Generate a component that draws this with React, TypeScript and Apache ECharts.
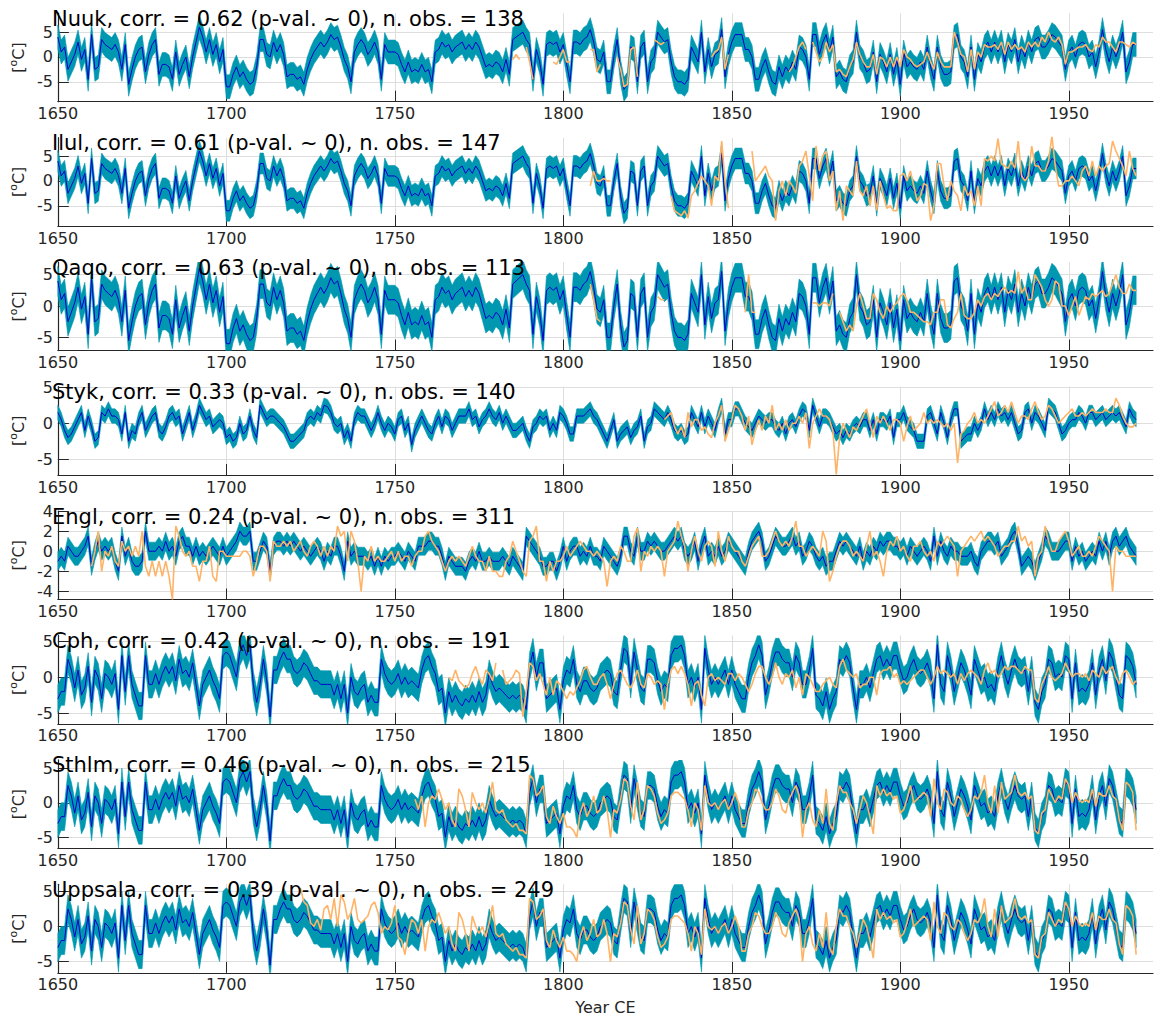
import React, { useEffect, useRef } from "react";
import * as echarts from "echarts";

const _ = null;
const FIRST_YEAR = 1650;
const X_TICKS = [1650, 1700, 1750, 1800, 1850, 1900, 1950];
const Y_TICKS_5 = [-5, 0, 5];
const Y_TICKS_ENGL = [-4, -2, 0, 2, 4];

// Reconstructions, 1650..1970 (one value per year)
const GREENLAND_RECON = [
  4, 1, 2, -2.5, -1, 0.5, 3, -0.5, 1.5, -4.5,
  4.5, -2.5, -2, 3.5, 2.5, 2, 1.5, 2.5, 1, -2.5,
  2.5, -5.5, -2.5, 0, 1.5, 2, -3, 0.5, 2.5, 3.5,
  -3.5, -1.5, -1.5, -2, -4.5, 1, -3.5, -1.5, 0, -4,
  0, 3, 6, 4, 1, 3.5, 0.5, 2.5, -1, 1.5,
  -6, -6, -3.5, -2, -4, -3, -4.5, -5.5, -5, -2,
  3.5, 3.5, 0.5, 0, 3, 1, 2.5, 0.5, -4, -3.5,
  -3.5, -4.5, -4, -5.5, -2.5, -0.5, 1, 2, 3, 2,
  3, 4.5, 3.5, 4, 2, -0.5, -2, -5, 1, 2.5,
  3.5, 2.5, 0.5, 1.5, 3, 1, -4.5, 2.5, 1, 1,
  1, 0.5, -1.5, -3, -1, -3, -2.5, -3, -1.5, -3,
  -2.5, -5, 1, 1.5, 3, 2, 2.5, 1, 2, 2.5,
  3, 1.5, 2.5, 1.5, 3, 2, 0, -2, -1.5, -2,
  -1, -1.5, -3, -0.5, -3.5, 3.5, 4, 4.5, 5, 3.5,
  2.5, -4.5, 1.5, -1, -5.5, 2.5, 3, 2.5, 3, 1,
  2.5, -1.5, -5, 3, 3, 2.5, 3.5, 4, 5.5, 3,
  -0.5, -1, 1, -5, -5, 0, 3.5, -3, -6.5, -5.5,
  2, 1.5, -5, 2, 3, -5, -1, 0, 5, 4,
  3, 3.5, -1, -4, -5, -5, -5.5, -4.5, 2, 0.5,
  -1, 5, -3, 1.5, -2, 0.5, 1, 5.5, -4, 0.5,
  3, 4.5, 4.5, 4.5, 1.5, 1.5, 0, -4.5, -4.5, -2,
  -0.5, -3, -5, -5.5, -2, -4, -2, -3, -1, -2.5,
  2, 1.5, 0, -4.5, 4.5, 4.5, 0.5, 3, 4.5, 1,
  4, -4, -3, -4.5, -5, -2, -1, 5, 0, -1,
  -3, -2.5, 1, -5, 0.5, -1, -3, 0.5, -3.5, -0.5,
  -5.5, 1, -2, -1, -2, -2.5, -1, -2.5, 2, -2,
  -4.5, 2, -2, -3.5, -3.5, -3, 4, 4.5, 0, -1,
  -4, 2, -4.5, 0.5, -1, 2, 3, 1, 3, 1,
  3, -1, 2.5, 1, 3.5, -1, 2, 0, 3, 1,
  3.5, 4, 2, 2, 3, 4.5, 4, 3, 2, -2.5,
  1, 2, 0, 2.5, 3, 2.5, 0, 1, -2, 1,
  5.5, 1.5, -1, 2, 0, 2, 5, -3, -1, 2.5,
  2.5,
];

const STYK_RECON = [
  1.5, 0.5, -1, -2, -1.5, -0.5, 0.5, 1.5, -1, 1,
  -0.5, -2.5, -2, 1.5, 1, 2, 1, 1, 0.5, -1.5,
  1.5, -2.5, -1, -1.5, 0.5, 1.5, -1, 0, 1, 1.5,
  -1, -1.5, -0.5, 1, 1.5, 0.5, 1, -1.5, 0, 1.5,
  -1, 0.5, 2.5, 1.5, 0.5, 1, -0.5, 0, 0.5, 0,
  -2, -1.5, -2.5, -2, 0, -1.5, -1, 1, -1, -2,
  2.5, 1.5, 0.5, 1, 1, 0.5, 0, -0.5, -1.5, -2.5,
  -2.5, -2, -1.5, -1, 0.5, 1, 0.5, 1.5, 1, 2.5,
  2.3, 1.5, 0, -0.5, 0, -2, -1, -2.5, 0.5, 1.5,
  1, 1, 0, -1, 0, 1.5, 0, -1, 0, -0.5,
  -1.5, 0.5, 1, -1, 0, -3, -1, 0, 1, 0,
  -1, -1.5, 0, 1, -0.5, 1, 0.5, -1, 0, 1,
  1, 1, 2, 0.5, 1, -0.5, 0.5, 1, 2, 1,
  0.5, 1.5, 0, 1, 0, -1, -1, -0.5, 0, -1.5,
  -2.5, -0.5, 0, 1, 0.5, 1, -1, 0, -1, 1.5,
  1, 0, -1.5, -1.5, 1, 1, 1, 1.5, 2, 1,
  0.5, -0.5, -1.5, -2.5, -1, 0.5, -2.5, -1.5, -1, -0.5,
  -2, -1, -0.5, 1, -2.5, -0.5, 0, 2, 1.5, 1,
  0.5, 1.5, 0.5, -1, -1.5, -1, -2, -1.5, 1.5, 0.5,
  -0.5, 1.5, -0.5, 1, 0, -1, 1, 2.5, -1.5, 0.5,
  0.5, 2, 2, 1, 0, -0.5, -1, 0, 1, 0.5,
  0, 0.5, 0.5, -0.5, -1, 0, -1.5, 0, 0.5, -0.5,
  1, 2, 1.5, -1, 2.5, 1, -0.5, 1, 1, 0.5,
  -0.5, -1.5, -1, -2, -1, -1.5, -0.5, 0, -0.5, 0.5,
  0.5, -1, 0.5, -1.5, 0.5, 0.5, 0, 1, -2, 0.5,
  0.5, 1.5, 0, -0.5, -1, -2.5, -2.5, -2.5, 1, 1.5,
  0, -1.5, 1.5, 0, -2, 0.5, 2, 2, -2.5, -2,
  -1.5, -1.5, 0, -1, 0, 2, 0.5, 1.5, 0.5, 2,
  1, 1.5, 0.5, 1.5, 0, -1.5, -1, 1.5, 2, 0,
  1.5, 1, 0, -1, 2.5, 2, 1.5, 0, -1.5, -1,
  0, 0.5, 0.5, 1.5, 1, 0, 1.5, 1.5, 0.5, 1,
  1.5, 0.5, 1, 1.5, 1, 1.5, 0.5, -0.5, 2, 1,
  0.5,
];

const ENGL_RECON = [
  -1, -0.5, -1, 0.5, 0, -0.5, -0.5, 0, 0.5, 1.5,
  -1.5, 0, 1, 0, 0.5, 0, 0.5, -1, -2, 1.5,
  -0.5, 0.5, -1, -1.5, -1.5, -1, 2, 0, 0, 0,
  0.5, 0, 1, 0, 0.5, -0.5, 1, 1.5, 0.5, 0.5,
  -0.5, 0.5, -0.5, 0, -0.5, 0, 0.5, 0, -0.5, 0.5,
  -0.5, 0, 0.5, 1, 2, 1.5, 1.5, 2, -1, -1,
  0, 1, 0.5, -2, 0.5, 1, 1, 0.5, 1, 0.5,
  1, 0.5, 0, 0.5, 0, -0.5, 0, 0.5, 0, -1,
  0, -0.5, 0.5, 0.5, -0.5, -2, 1, -0.5, 0, -0.5,
  -0.5, -0.5, -1, -0.5, -1.5, -0.5, -1.5, -0.5, -1, -0.5,
  -0.5, 0, -0.5, -1, 0, -0.5, -1, 0.5, 0.5, 0.5,
  1, 1, 0.5, 0.5, -0.5, -2, -0.5, -1, -1.5, -1.5,
  -1.5, -2, -1, -0.5, -1, 0, -1, -1, -0.5, -1,
  -1, -1, -0.5, -1, -1.5, -0.5, -1, -1.5, -2, 1.5,
  1, 0.5, 0, -0.5, -1.5, -1.5, -1, -1, -2, -1,
  0.5, -1, 0, 0.5, 0.5, -0.5, 0, -0.5, 0.5, -0.5,
  -0.5, -1, 0.5, 0, -0.5, -1, -1.5, -0.5, 1.5, 1.5,
  0, -0.5, 1.5, 0, 0, 1, 0.5, 1, 0.5, 0,
  0, 0.5, 1, 1.5, 1, 1.5, 0, -0.5, 0, 1,
  -1, 0.5, 1.5, -0.5, 0, -0.5, 0.5, -0.5, 0, 1,
  0.5, 0, -0.5, -1, -1.5, 0, 1, 1.5, 2, 1,
  -1, -0.5, 0.5, 1.5, 1, 0.5, 0.5, 1, 1.5, 0.5,
  1, -0.5, 0, 1, 0.5, -0.5, -1, -0.5, -1.5, -1,
  -1, 0, 1, 0.5, 1, 0.5, 0, -0.5, 0.5, -1,
  0, -0.5, 0.5, 0, 1, 0.5, 1, 1, 0.5, 0.5,
  0, 0.5, -0.5, 0.5, 0, -0.5, 0, 0.5, 0, -1,
  1.5, -0.5, 1, 0, -0.5, 0.5, 0, 0, -0.5, -0.5,
  -0.5, 0, -1, -1.5, 0, 0.5, 1, 1, 0.5, 1,
  -0.5, 0, 0.5, 1.5, 2, 0.5, -1.5, -1, -0.5, -1,
  -2, -1, 0, 1.5, 1, 0, 0, 0, 0.5, 1,
  1, -1, 0.5, -0.5, 0, -1, -0.5, 0, -0.5, 1,
  0, 1, -0.5, 1, 1.5, 0.5, 1, 1.5, 0.5, 0,
  -0.5,
];

const SCAN_RECON = [
  -3, -2, -2, 2.5, 1, -1.5, 1, -2.5, -1.5, 1.5,
  -3.5, 1, 0, -3, 0.5, 0, -1, 0.5, -4.5, 3,
  -2, 3, -1, -2.5, -4, -4, 3, -1, -1, 0.5,
  -1, 0.5, 1.5, 0.5, 1.5, -0.5, 2.5, 0.5, 1, 0,
  2, -1, -4, -1, 0, 1, -0.5, -1.5, -3, 3,
  3.5, 3, 1.5, 0, 3.5, 4.5, 3, 4.5, -1, -3.5,
  -1, 2.5, -0.5, -5.5, 1, 1, 2.5, 3.5, 2.5, 2.5,
  1, 0.5, 1, 2, 1.5, 0.5, -0.5, -0.5, -1, -1,
  -1, -1, -2.5, -1, -3, -1, -5, 0, -2, -2.5,
  -1.5, -1, -3.5, -2.5, -3.5, -3.5, 2.5, 0.5, -0.5, -1,
  -0.5, 0.5, -1, 0, -1, -0.5, -1, -1.5, 1, 2.5,
  3, 1.5, 0.5, -2, -1.5, -5, -2, -3.5, -2.5, -3.5,
  -4, -3, -3.5, -2.5, -3.5, -2, -3.5, -2.5, 0.5, -1,
  -2, -1.5, -2, -2.5, -3, -2.5, -3, -2.5, -3, -4.5,
  1.5, 3.5, 0, 2, 2, -3, -2.5, -2, -1.5, -4.5,
  -0.5, 1, 0.5, 2.5, -1, -2, -0.5, -0.5, -1.5, -2,
  -1.5, 0, 0.5, 1, 0.5, -2, -2.5, 1, 4, 3.5,
  -1, 3.5, 1, -1.5, -2, 2.5, 2.5, 2, -0.5, -2,
  -1, -1.5, 3, 4, 4, 4.5, 3, -1, 0, -1.5,
  0, -4.5, 4, 1, -1, 0, -1, 0, 1, -1,
  1, -1, -2, -3, -3, 0, 2, 3, 4.5, 3,
  -2.5, -0.5, 2, 3.5, 3.5, 2.5, 2, 2, 0, 3,
  2, -1, -1, 1, 4, -2.5, -3, -4, -2, -4.5,
  -3, -2, 2.5, 2, 3, 2, -1.5, -4.5, -1, -1,
  0, -1.5, 0.5, 2.5, 3, 1.5, 2.5, 1.5, 3, 3,
  1, -0.5, 0, 1.5, 2.5, 1, 0.5, 1, 2, 0.5,
  -3, 4.5, -1, -2, 3, 1, -2, 0, 2, 1,
  -0.5, -2.5, 2.5, 1, -0.5, 0, -1.5, -1, -2, 1,
  3, 0.5, -1, 1, 2.5, 1, 0.5, 1, -2, 1,
  -3.5, -4.5, -2, -1, 2.5, 2, 0, 0.5, 0, 3,
  2.5, -3, 2, -2, -1.5, -2, -1, 2, -2.5, 1,
  2.5, -0.5, 3.5, 2.5, 0, -2.5, -3, 3, 2.5, 1.5,
  -1,
];

// Station observations (first year given beside each), null = no observation
const NUUK_OBS_START = 1785;
const NUUK_OBS = [
  -0.5, 0.5, -0.5, _, 2,
  -1, -4.5, _, _, _, _, _, -1, -1.5, 0,
  1.5, -1, -1, _, _, _, _, _, 1.5, 1.5,
  -3, -1.5, _, _, _, _, 0, -2.5, -6, -5.5,
  1.5, 2, -4, _, _, _, _, 3.5, 3, 2.5,
  3, _, _, _, _, _, _, _, _, _,
  _, _, _, _, 0, 1, 1.5, 4, -2.5, 0.5,
  _, _, _, _, _, _, _, _, _, _,
  _, _, _, _, _, _, _, -3, -2, 0,
  2, 3, 1.5, _, 3, 1, -1, 0, 3, 1,
  2.5, -3, -2.5, -3.5, -4, -2, -0.5, 3, 0.5, -1,
  -2, -2, 0.5, -3.5, 0, -0.5, -2, 0, -2, 0,
  -2, 1.5, 0, -0.5, -1.5, -2, -1.5, -1, 1, -1,
  -2.5, 1, -1, -2, -2, -2, 5, 3, 0.5, 0,
  -3, 1.5, -2.5, 1, 0, 2.5, 2, 2, 2.5, 1.5,
  3, 0.5, 3, 1.5, 2.5, 1.5, 2, 1, 3, 2,
  3, 2, 4, 3, 5, 3.5, 3, 4, 2.5, -1.5,
  1, 1, 1.5, 2, 2, 2.5, 1.5, 1, 2.5, 2,
  4, 3, 3, 2, 1, 3, 3, 2.5, 2, 3,
  2.5,
];

const ILUL_OBS_START = 1808;
const ILUL_OBS = [
  -1, 2,
  0, 0, 0.5, 0, 0, _, _, _, _, _,
  _, _, _, _, _, _, _, _, _, _,
  _, _, -3, -6, -6.5, -7, -6, -7.5, -3, -2,
  -0.5, 1, 0, -1, -5, 1, 0, 8, 0, -5.5,
  _, _, _, _, _, _, 6, 0, 1, 2,
  3, 1, 0, -8, -2, 0, -3, 0, -1, -2.5,
  3, 4, 6, 1, -4, 7, 2, 5, 6, 0,
  2, -6, -2, -8, -1, -2, -3, 4, -2, -3,
  -1, -5, -1, -6, 0, -3, -5.5, -5, -6, -6,
  1, 1.5, 0, 2, -1, -4, -3, -0.5, -1, -8,
  -5, 3.5, 3.5, -1, -4, 0, -2, -3, -6, -1,
  -3, -2, -5, -1, -5, 4.5, 4, 5, 4, 8.5,
  3.5, 3, 2.5, 4, 2.5, 8, 1, 0, 1, 7,
  3, 3, 2, 2, 4, 9, 3, -1, -1, 0,
  0, 1, 0, -1, 2, 3, 1, 4, 1, 3,
  2, 3, 3.5, 8, 6, 4.5, 3, 1, 6, 2.5,
  1,
];

const QAQO_OBS_START = 1808;
const QAQO_OBS = [
  3.5, 1,
  -2, -2.5, _, _, _, _, _, _, _, _,
  _, _, _, _, _, _, _, _, 1.5, 1,
  1, _, _, _, _, _, _, _, _, _,
  _, _, _, _, _, _, _, _, _, _,
  _, _, _, _, -1, 5, -1, -1, _, _,
  _, _, _, _, _, _, _, _, _, _,
  _, _, _, _, 0.5, 0.5, 0, 0.5, 0.5, 0,
  2, _, -1, -2.5, -4, -3, -4, 0, 2, 0,
  -2, -2, 2, 1, -1, -2, 0, -1, 0, 0.5,
  1.5, 2, 1, -1, -1, -1.5, -2, -2.5, -2.5, -3,
  -1, -1, 1, 1, -3, -3.5, -2, -1, 2, -1.5,
  -2, -2, -1, 1, 0, 1.5, 2, 1, 2, 1.5,
  2.5, 3, 2, 2.5, 2, 5.5, 2, 3, 1, 1,
  5, 4, 3, 1, 0, 1, 4, 3.5, 0, 0,
  -1.5, 0, 1.5, -1.5, 0, 1.5, 1, 2, 1.5, 2,
  2.5, 1.5, 2, 3.5, 5, 3, 2, 2, 3.5, 2.5,
  2.5,
];

const STYK_OBS_START = 1830;
const STYK_OBS = [
  0.5, 1, 1.5, -0.5, -1.5, -0.5, -2, 1.5, -0.5, 0.5,
  0.5, -1, -0.5, -1.5, -2, 0, 1, 2.5, -2.5, -1,
  0.5, 2.5, 2, 1, -1, 1, -3, -1, 0.5, -1,
  1, 0, 2.5, -1, 0, -1, 0.5, -1, 0, 0,
  1, 0, 1.5, -3.5, 0, 1, 2, 1, 1, 0.5,
  -1, -7.1, -2, 0, -1, -2, -0.5, -1, 0, 1,
  2, 0, -2, 1, 0, 1, 0, -1, 0.5, 0.5,
  0, -2.5, -0.5, 1, -1, -0.5, 0, 1.5, 0, 0.5,
  0, 0.5, 0, -0.5, 0, -1, 0, -5.5, -1.5, -1,
  0, 0.5, 1.5, 0, 0.5, 0, 1, 2, 3, 1,
  1.5, 2.5, 1.5, 3, 1.5, 0, 1, 1, 0.5, 2,
  3, 1.5, 0.5, 1, 2.5, 2, 1, 0, 0.5, 1,
  1.5, 2, 1, 1, 1.5, 1, 1.5, 2, 1.5, 1.5,
  1.5, 2, 1.5, 1.5, 3.5, 2.5, 1, 0, -0.5, -0.5,
  0,
];

const ENGL_OBS_START = 1660;
const ENGL_OBS = [
  -1.5, 0, 2, -2, 0, -0.5, 0.5, -1, -1.5, 1,
  0, 0.5, -0.5, 0.5, -0.5, 2, -1.5, -2.5, -1, -2.5,
  -1, -2.5, -1, -2.5, -4.8, 2.5, 1.5, 0, -0.5, 0,
  -1.5, -1.5, -3, -1, -1, 0.5, -2.5, -3, 0, 0,
  -0.5, -0.5, -0.5, -0.5, -0.5, 0, 0, -0.5, -2.5, -1,
  0.5, 0.5, 0, -3, 1, 0.5, 0.5, 1, 0.5, 1,
  0, 0.5, 1, 0, -0.5, 0.5, 1, 0.5, -0.5, 0.5,
  -0.5, 0.5, 0, 2.5, 1.5, 2, -1, 2, 1, -1,
  -4, -0.5, -1, 0.5, -1, -0.5, -1, -1, -0.5, 0,
  -1, 0, -1, -0.5, -0.5, -1.5, -0.5, 0, 0, 1.5,
  2, 1, 0.5, 0, -1, -2, -1, -0.5, -1, -0.5,
  -1, -1.5, -0.5, 0.5, -0.5, -1, -1, -2, -0.5, -2,
  -2, -2.5, -2.5, -1, -0.5, 1, 0, -1, -2, -2.5,
  1, 1.5, 2.5, -1, -1, -3, -1, -2, -1, -1,
  -0.5, 0.5, -0.5, 0, 0.5, 1, 0.5, 0, 0, -0.5,
  0, -0.5, -1, -3.5, -1, -0.5, -1, 0.5, 0, -1,
  -1, 1.5, 2.3, -2, 0, -0.5, 0.5, 0, 0.5, 0,
  -2.5, 0, 0.5, 1, 3, 1.5, 0.5, -2, 0, 1.5,
  0, -1, 0.5, 1, 0.5, -1.5, 2, 0, -1, 1.5,
  0.5, 0, 0, -1, -1.5, -0.5, 0.5, 1, 1.5, -0.5,
  -0.5, 0, 1, 2, 1, 0.5, 1, 0.5, 1.5, 3,
  0.5, 0.5, -0.5, 0, 0.5, 0, -0.5, 2, 1, -3,
  -2, -0.5, 0.5, 1, 1, 0.5, -0.5, 0, -0.5, -1,
  0.5, 2, -0.5, 0, -1, -2.5, 0, 1, 0.5, 1.5,
  0, 0.5, -0.5, -1, 0.5, 0.5, 1, 0, -0.5, 0,
  -1, 1, 0.5, 1, 1.5, 1, 0.5, -2.5, 0, 0.5,
  1, 1.5, 1, 1.5, 2, 1, 1.5, 1, 0.5, -0.5,
  0, 0.5, 0.5, 1, 1, 2.5, 1, 1.5, 0.5, 1,
  -2.5, -0.5, 0, 2.5, 1, 0, 0, 1, 1.5, 2,
  1, -0.5, 0, 0.5, -0.5, -0.5, 0, -0.5, 0.5, 1.5,
  1, 0.5, 0, -4, 0.5, 0, 0, -0.5, -0.5, -0.5,
  -0.5,
];

const CPH_OBS_START = 1766;
const CPH_OBS = [
  0, -0.5, 1, -0.5,
  -1, -1.5, -1, 0.5, 1.5, 0, -1, 1, 0.5, -0.5,
  2, _, 1, -1, -0.5, 0, 1, 0.5, -5.5, -2,
  2, 1.5, -0.5, 0.5, -1, -2.5, 0, -2.5, -0.5, -1,
  -2, -3, -2, -2.5, -1.5, -0.5, 1, 1.5, 0, -1,
  -1, 0, 0.5, -1, -3, -1, 0.5, 1, 0, -1,
  -1.5, -0.5, 1, -1, -1.5, 0.5, 0, -1, -0.5, -1,
  -4.5, -1, 1, 1.5, 0.5, 1.5, 0.5, -1, -4, -1,
  -0.5, -2.5, -4, 0, 0.5, -0.5, 0, -0.5, -1, 0.5,
  0.5, -0.5, 0.5, 0, -1, -2, -1, 0.5, 1.5, 1.5,
  0, -1, 0, 2, 0, -1, 0.5, 0, 1, -1.5,
  0, -2.5, 0.5, 0, -1, -2, -2, -1, -0.5, 0,
  -1, -1.5, 1.5, 2.5, 1, 0.5, 0, 0.5, -1.5, -1,
  -1, 0, 0, -2.5, 0.5, 1, 1, 1.5, 0, 0.5,
  -1, -0.5, -1, -0.5, 0, 0.5, 1, 1, 0, -1,
  0, 1.5, 0.5, 1, 0.5, 0, 0.5, -1, 0.5, -0.5,
  0.5, 1, 0.5, 0, -1, 1, 2, 0.5, 1, 0,
  0.5, 1.5, 1, 1.5, 1.5, 1, 0.5, 1.5, 1, 1,
  -3, -3.5, -1, 0, 1.5, 0, -0.5, 0, 0.5, 2,
  1, 0, 0.5, 0.5, 0, 0.5, -0.5, 1, 0.5, 0,
  1.5, 0.5, 1, 1.5, 0, -1, 0.5, 1, 0, -1,
  -0.5,
];

const STHLM_OBS_START = 1756;
const STHLM_OBS = [
  0.5, -1, 1, -3.5,
  0, 1, 0.5, 2, 0.5, -1, 0, -2.5, -3.5, 2,
  1, -1, -3.5, 1.5, 0, -1, 0, -1.5, 0.5, 3,
  -1, -1.5, -1, -2.5, -3, -3.5, -3, -4, -4, -4.5,
  4, 3.5, 1, 1.5, 2.5, -2, -3, -0.5, -2, -3,
  -1.5, -3.5, -3.5, -4, -5, -1.5, 0, -2, -1, 1,
  -1.5, -1, 1, -1, -5, -1, -1.5, 0.5, 3.5, 3,
  -0.5, -2.5, 3, -2.5, -1, 2.5, 2, 1, -1.5, -3,
  -2.5, -1.5, 1, 1.5, 1.5, 1, 0.5, -1, -3.5, 0,
  -1, -4, 2.5, 0, -0.5, 0, -1, 0, 0.5, -1,
  0, 1.5, 0, -3.5, -3.5, -1, 0, 2, 1.5, 0,
  -1, -1, 0, 2, 1, -1, -1.5, 0.5, 1.5, 2.5,
  1, -5, -1, 0, -2.5, -3.5, -1, -3, 2, -3,
  -4, 0, 2.5, 1.5, 1.5, 0, -1, -3, -1, 1,
  0, -2, -4.5, 2.5, 1, 2, 1, 1.5, 0.5, 1,
  -1.5, -1, 0.5, 2.5, 0, 0.5, 1, 1.5, 1, -2,
  3.5, 0, -1, 2, 1.5, 0, -0.5, 1, 0.5, -1,
  -2, -1, 1, 0.5, 1.5, 4, 0, -1.5, 2.5, -1.5,
  3, 0.5, 1, 1.5, 4, 1.5, 1, 1.5, 0.5, 1,
  -4, -4.5, -1.5, -1, 2, 1, 0, 1, 0.5, 3.5,
  2.5, 0, 1.5, 0.5, 0, 0.5, 0, 2, -0.5, 1.5,
  1, 1, 2.5, 1, 0.5, -2.5, -4, 3, 2.5, 1.5,
  -4,
];

const UPPSALA_OBS_START = 1722;
const UPPSALA_OBS_EARLY = [
  5.5, 3.5, 3, 0.5, 0, 1, -0.5, 2.5,
  3, 1, 4, 0, 4.5, 3.5, 1, 2, 4, 1,
  0.5, 1, 1.5, 3, 3.5, 2, -1, 0, -0.5, 0.5,
  3, -1.5, -2, -4, -1, 1,
];
const UPPSALA_OBS = UPPSALA_OBS_EARLY.concat(STHLM_OBS);

const TITLES = [
  "Nuuk, corr. = 0.62 (p-val. ~ 0), n. obs. = 138",
  "Ilul, corr. = 0.61 (p-val. ~ 0), n. obs. = 147",
  "Qaqo, corr. = 0.63 (p-val. ~ 0), n. obs. = 113",
  "Styk, corr. = 0.33 (p-val. ~ 0), n. obs. = 140",
  "Engl, corr. = 0.24 (p-val. ~ 0), n. obs. = 311",
  "Cph, corr. = 0.42 (p-val. ~ 0), n. obs. = 191",
  "Sthlm, corr. = 0.46 (p-val. ~ 0), n. obs. = 215",
  "Uppsala, corr. = 0.39 (p-val. ~ 0), n. obs. = 249",
];

const PANELS = [
  { recon: GREENLAND_RECON, half: 2.4, obs: NUUK_OBS, obsStart: NUUK_OBS_START, yMin: -9.0, yMax: 8.8, yTicks: Y_TICKS_5 },
  { recon: GREENLAND_RECON, half: 2.1, obs: ILUL_OBS, obsStart: ILUL_OBS_START, yMin: -9.1, yMax: 8.7, yTicks: Y_TICKS_5 },
  { recon: GREENLAND_RECON, half: 2.3, obs: QAQO_OBS, obsStart: QAQO_OBS_START, yMin: -7.1, yMax: 7.0, yTicks: Y_TICKS_5 },
  { recon: STYK_RECON, half: 1.0, obs: STYK_OBS, obsStart: STYK_OBS_START, yMin: -7.2, yMax: 5.1, yTicks: Y_TICKS_5 },
  { recon: ENGL_RECON, half: 0.9, obs: ENGL_OBS, obsStart: ENGL_OBS_START, yMin: -4.8, yMax: 4.0, yTicks: Y_TICKS_ENGL },
  { recon: SCAN_RECON, half: 1.9, obs: CPH_OBS, obsStart: CPH_OBS_START, yMin: -6.5, yMax: 5.8, yTicks: Y_TICKS_5 },
  { recon: SCAN_RECON, half: 2.0, obs: STHLM_OBS, obsStart: STHLM_OBS_START, yMin: -6.6, yMax: 6.2, yTicks: Y_TICKS_5 },
  { recon: SCAN_RECON, half: 2.0, obs: UPPSALA_OBS, obsStart: UPPSALA_OBS_START, yMin: -6.6, yMax: 6.0, yTicks: Y_TICKS_5 },
];

// Styling / layout
const FONT = "DejaVu Sans";
const AXIS_COLOR = "#262626";
const GRID_COLOR = "#dedede";
const BAND_COLOR = "#0098b0";
const RECON_COLOR = "#0000cc";
const OBS_COLOR = "#ffb366";
const PLOT_LEFT = 54;
const PLOT_RIGHT = 12;
const FIRST_TOP = 13.2;
const PANEL_STEP = 124.45;
const PLOT_H = 88.5;

function buildOption() {
  const grid: any[] = [];
  const xAxis: any[] = [];
  const yAxis: any[] = [];
  const series: any[] = [];
  const title: any[] = [];

  PANELS.forEach((p, i) => {
    const top = FIRST_TOP + PANEL_STEP * i;
    grid.push({ left: PLOT_LEFT, right: PLOT_RIGHT, top, height: PLOT_H, containLabel: false });
    title.push({
      text: TITLES[i],
      left: 52,
      top: top - 5,
      padding: 0,
      z: 10,
      textStyle: { fontSize: 21, fontWeight: "normal", color: "#000", fontFamily: FONT },
    });
    const last = i === PANELS.length - 1;
    xAxis.push({
      type: "value",
      gridIndex: i,
      min: 1650,
      max: 1975,
      axisLine: { show: true, onZero: false, lineStyle: { color: AXIS_COLOR, width: 1.2 } },
      axisTick: { show: true, inside: true, length: 11, customValues: X_TICKS, lineStyle: { color: AXIS_COLOR, width: 1 } },
      axisLabel: {
        customValues: X_TICKS,
        formatter: (v: number) => String(v),
        color: AXIS_COLOR,
        fontSize: 16,
        fontFamily: FONT,
        margin: 4,
      },
      splitLine: { show: false },
      name: last ? "Year CE" : "",
      nameLocation: "middle",
      nameGap: 27,
      nameTextStyle: { color: AXIS_COLOR, fontSize: 16, fontFamily: FONT },
    });
    yAxis.push({
      type: "value",
      gridIndex: i,
      min: p.yMin,
      max: p.yMax,
      axisLine: { show: true, onZero: false, lineStyle: { color: AXIS_COLOR, width: 1.2 } },
      axisTick: { show: true, inside: true, length: 11, customValues: p.yTicks, lineStyle: { color: AXIS_COLOR, width: 1 } },
      axisLabel: {
        customValues: p.yTicks,
        formatter: (v: number) => String(v),
        color: AXIS_COLOR,
        fontSize: 16,
        fontFamily: FONT,
        margin: 5,
      },
      splitLine: { show: false },
      name: "{b|[}{s|o}{b|C]}",
      nameLocation: "middle",
      nameRotate: 90,
      nameGap: 21,
      nameTextStyle: {
        rich: {
          b: { fontSize: 16, fontFamily: FONT, color: AXIS_COLOR, lineHeight: 20 },
          s: { fontSize: 11, fontFamily: FONT, color: AXIS_COLOR, lineHeight: 20, verticalAlign: "top" },
        },
      },
    });

    // grid lines (drawn beneath the band)
    series.push({
      type: "line",
      xAxisIndex: i,
      yAxisIndex: i,
      data: [],
      z: 0,
      silent: true,
      markLine: {
        z: 0,
        zlevel: 0,
        silent: true,
        symbol: ["none", "none"],
        label: { show: false },
        lineStyle: { color: GRID_COLOR, width: 1, type: "solid" },
        emphasis: { disabled: true },
        data: X_TICKS.filter((x) => x > 1650)
          .map((x) => ({ xAxis: x }) as any)
          .concat(p.yTicks.map((y) => ({ yAxis: y }) as any)),
      },
    });

    // uncertainty band: one polygon through the library's coordinate mapping
    const bandData = p.recon.map((v, j) => [FIRST_YEAR + j, v - p.half, v + p.half]);
    series.push({
      type: "custom",
      xAxisIndex: i,
      yAxisIndex: i,
      clip: true,
      silent: true,
      z: 2,
      encode: { x: 0, y: [1, 2] },
      data: bandData,
      renderItem: (params: any, api: any) => {
        if (params.dataIndex !== 0) return null;
        const upper = bandData.map((d) => api.coord([d[0], d[2]]));
        const lower = bandData.map((d) => api.coord([d[0], d[1]])).reverse();
        return {
          type: "polygon",
          shape: { points: upper.concat(lower) },
          style: { fill: BAND_COLOR, stroke: BAND_COLOR, lineWidth: 0.6 },
        };
      },
    });

    series.push({
      type: "line",
      xAxisIndex: i,
      yAxisIndex: i,
      symbol: "none",
      silent: true,
      lineStyle: { color: RECON_COLOR, width: 1 },
      data: p.recon.map((v, j) => [FIRST_YEAR + j, v]),
      z: 3,
    });
    series.push({
      type: "line",
      xAxisIndex: i,
      yAxisIndex: i,
      symbol: "none",
      silent: true,
      connectNulls: false,
      lineStyle: { color: OBS_COLOR, width: 1.6 },
      data: p.obs.map((v, j) => [p.obsStart + j, v === null ? "-" : v]),
      z: 4,
    });
  });

  return {
    animation: false,
    backgroundColor: "#ffffff",
    title,
    grid,
    xAxis,
    yAxis,
    series,
  };
}

export default function App() {
  const ref = useRef<HTMLDivElement>(null);
  useEffect(() => {
    if (!ref.current) return;
    const chart = echarts.init(ref.current, null, { renderer: "svg" });
    chart.setOption(buildOption() as any);
    return () => chart.dispose();
  }, []);
  return (
    <div
      ref={ref}
      style={{ position: "fixed", left: 0, top: 0, width: 1165, height: 1028, background: "#fff" }}
    />
  );
}
